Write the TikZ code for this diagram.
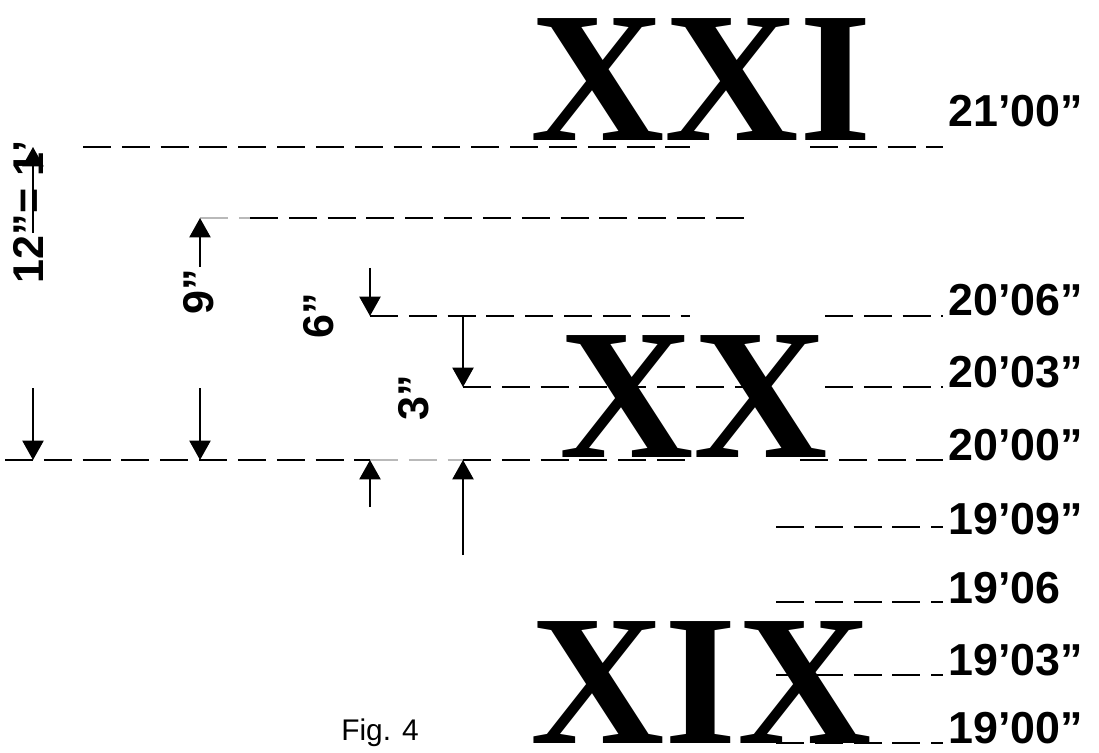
\documentclass[tikz,border=0pt]{standalone}
\usepackage{fontspec}
\setmainfont{Liberation Sans}
\newfontfamily\romanfont{Liberation Serif}
\usepackage{tikz}
\usepackage{xcolor}
\usetikzlibrary{arrows.meta,positioning}
\definecolor{ink}{RGB}{0, 0, 0}
\definecolor{faint}{RGB}{185, 185, 185}
\tikzstyle{levelline} = [
    line width=1.5pt,
    dash pattern=on 15.9pt off 6.2pt,
    draw=ink
]
\tikzstyle{faintline} = [
    line width=0.7pt,
    dash pattern=on 15.9pt off 6.2pt,
    draw=faint
]
\tikzstyle{dimarrow} = [
    line width=1.1pt,
    -{Triangle[width=12pt,length=11pt]},
    draw=ink
]
\tikzstyle{hlabel} = [
    anchor=base west,
    inner sep=0pt,
    font=\bfseries\fontsize{25.5}{26}\selectfont
]
\tikzstyle{rlabel} = [
    rotate=90,
    anchor=base,
    inner sep=0pt,
    font=\bfseries\fontsize{24.5}{25}\selectfont
]
\tikzstyle{numeral} = [
    anchor=base,
    inner sep=0pt,
    text height=0.67em,
    text depth=0pt,
    font=\romanfont\bfseries\fontsize{106}{106}\selectfont
]

\begin{document}
\begin{tikzpicture}[x=0.02cm, y=-0.02cm]
    \useasboundingbox (0,0) rectangle (1099,753);

    % big numerals
    \node[numeral] (xxi) at (701,141) {XXI};
    \node[numeral] (xx) at (694,457) {XX};
    \node[numeral] (xix) at (701,743) {XIX};

    % dashed level lines, broken where the numerals stand
    \foreach \y/\a/\b/\c/\d in {147/83/690/810/943, 316/370/690/825/943,
        387/463/745/825/943, 460/463/690/800/943}
        \draw[levelline] (\a,\y) -- (\b,\y) (\c,\y) -- (\d,\y);
    \draw[levelline] (5,460) -- (370,460);
    \draw[faintline] (370,460) -- (463,460);
    \draw[faintline] (200,218) -- (250,218);
    \draw[levelline] (250,218) -- (752,218);
    \foreach \y in {527,602,675,743}
        \draw[levelline] (776,\y) -- (943,\y);

    % heights
    \node[hlabel] (h2100) at (948,127) {21’00”};
    \node[hlabel] (h2006) at (948,316) {20’06”};
    \node[hlabel] (h2003) at (948,387) {20’03”};
    \node[hlabel] (h2000) at (948,460) {20’00”};
    \node[hlabel] (h1909) at (948,534) {19’09”};
    \node[hlabel] (h1906) at (948,603) {19’06};
    \node[hlabel] (h1903) at (948,675) {19’03”};
    \node[hlabel] (h1900) at (948,743) {19’00”};

    % spans
    \node[rlabel] (foot) at (43,212) {12”= 1’};
    \node[rlabel] (nine) at (213,292) {9”};
    \node[rlabel] (six) at (333,316) {6”};
    \node[rlabel] (three) at (428,398) {3”};

    \foreach \x/\from/\to in {33/233/147, 33/388/460, 200/267/218, 200/388/460,
        370/268/316, 370/507/460, 463/316/387, 463/555/460}
        \draw[dimarrow] (\x,\from) -- (\x,\to);

    \node[font=\fontsize{17}{17}\selectfont, anchor=base, inner sep=0pt] (fig) at (380,740) {Fig. 4};
\end{tikzpicture}
\end{document}
